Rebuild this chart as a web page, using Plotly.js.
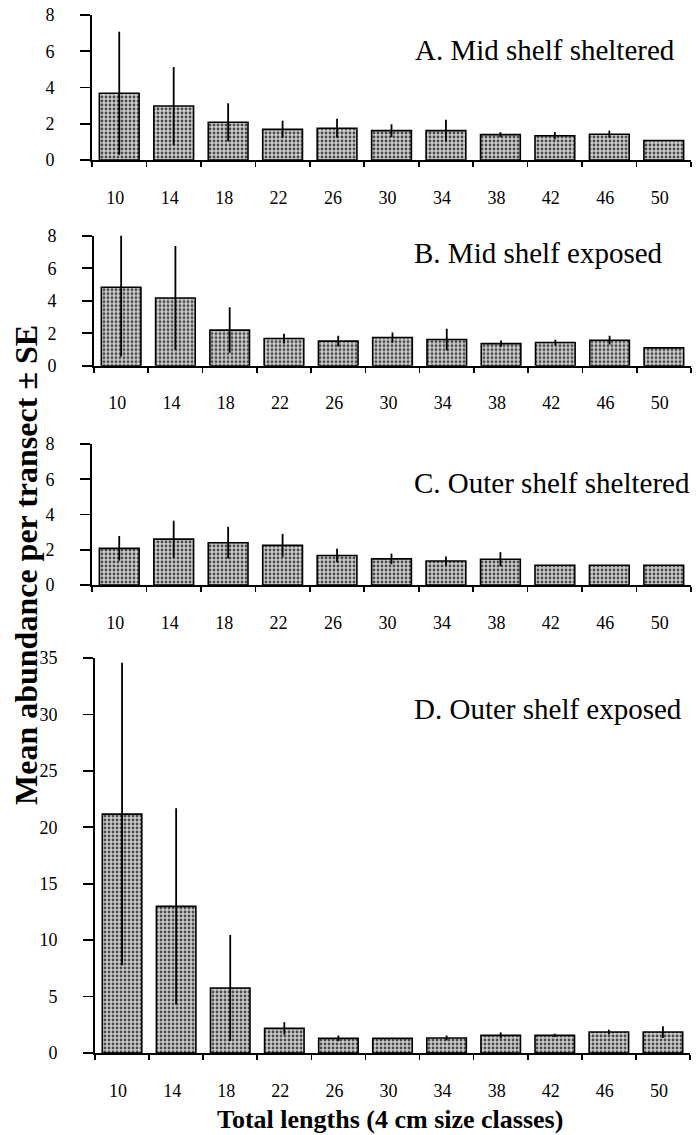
<!DOCTYPE html>
<html>
<head>
<meta charset="utf-8">
<script src="https://cdn.plot.ly/plotly-3.0.1.min.js"></script>
<style>html,body{margin:0;padding:0;background:#fff}#chart{width:697px;height:1135px}</style>
</head>
<body>
<div id="chart"></div>
<script>
// Size classes (total length, cm)
var sizeClasses = ['10','14','18','22','26','30','34','38','42','46','50'];

// A. Mid shelf sheltered
var midShelteredMean = [3.68, 2.98, 2.08, 1.69, 1.75, 1.62, 1.62, 1.40, 1.34, 1.42, 1.08];
var midShelteredSE   = [3.40, 2.15, 1.05, 0.48, 0.52, 0.35, 0.60, 0.14, 0.20, 0.20, 0.00];

// B. Mid shelf exposed
var midExposedMean = [4.83, 4.17, 2.19, 1.67, 1.51, 1.74, 1.61, 1.36, 1.43, 1.57, 1.10];
var midExposedSE   = [4.27, 3.20, 1.40, 0.30, 0.33, 0.31, 0.67, 0.19, 0.17, 0.27, 0.00];

// C. Outer shelf sheltered
var outerShelteredMean = [2.08, 2.60, 2.40, 2.25, 1.67, 1.48, 1.36, 1.46, 1.12, 1.12, 1.12];
var outerShelteredSE   = [0.70, 1.05, 0.90, 0.65, 0.38, 0.30, 0.25, 0.40, 0.00, 0.00, 0.00];

// D. Outer shelf exposed
var outerExposedMean = [21.17, 12.99, 5.76, 2.18, 1.30, 1.30, 1.33, 1.56, 1.56, 1.86, 1.86];
var outerExposedSE   = [13.40, 8.70, 4.70, 0.55, 0.25, 0.05, 0.22, 0.27, 0.15, 0.21, 0.52];

var panelTitles = ['A. Mid shelf sheltered', 'B. Mid shelf exposed', 'C. Outer shelf sheltered', 'D. Outer shelf exposed'];
var yTitle = 'Mean abundance per transect \u00b1 SE';
var xTitle = 'Total lengths (4 cm size classes)';

var W = 697, H = 1135;
var FONT = '"Liberation Serif", "Times New Roman", serif';

function px(x){ return x / W; }
function py(y){ return 1 - y / H; }

var means = [midShelteredMean, midExposedMean, outerShelteredMean, outerExposedMean];
var ses = [midShelteredSE, midExposedSE, outerShelteredSE, outerExposedSE];

// panel geometry in pixels: [xLeft, xRight, yTop, yBottom]
var geom = [
  [92, 691, 15, 160],
  [94, 691, 235.7, 365.7],
  [92, 691, 444, 585],
  [95, 690, 658, 1053]
];
var yRanges = [[0,8],[0,8],[0,8],[0,35]];
var yDtick = [2,2,2,5];
var titlePos = [[677, 50], [665, 253], [692, 483], [684, 709]];

var traces = [];
var layout = {
  width: W, height: H,
  margin: {l:0, r:0, t:0, b:0},
  paper_bgcolor: '#ffffff',
  plot_bgcolor: '#ffffff',
  showlegend: false,
  bargap: 0.27,
  font: {family: FONT, color: '#000', size: 18},
  annotations: []
};

for (var i = 0; i < 4; i++) {
  var xa = 'x' + (i === 0 ? '' : (i + 1));
  var ya = 'y' + (i === 0 ? '' : (i + 1));
  traces.push({
    type: 'bar',
    x: sizeClasses,
    y: means[i],
    xaxis: xa, yaxis: ya,
    marker: {
      color: '#b8b8b8',
      line: {color: '#000', width: 1.6},
      pattern: {shape: '.', size: 4, solidity: 0.4, fgcolor: '#4a4a4a', bgcolor: '#cdcdcd'}
    },
    error_y: {type: 'data', array: ses[i], visible: true, color: '#000', thickness: 1.8, width: 0},
    hoverinfo: 'none'
  });
  var g = geom[i];
  var xk = 'xaxis' + (i === 0 ? '' : (i + 1));
  var yk = 'yaxis' + (i === 0 ? '' : (i + 1));
  layout[xk] = {
    domain: [px(g[0]), px(g[1])],
    anchor: (i === 0 ? 'y' : 'y' + (i + 1)),
    type: 'category',
    range: [-0.5, 10.5],
    tickson: 'boundaries',
    ticks: 'outside', ticklen: 5, tickwidth: 1.6, tickcolor: '#000',
    showline: true, linecolor: '#000', linewidth: 2,
    showgrid: false, zeroline: false,
    tickfont: {family: FONT, size: 18, color: '#000'},
    ticklabelstandoff: 20,
    ticklabelshift: -4,
    fixedrange: true
  };
  layout[yk] = {
    domain: [py(g[3]), py(g[2])],
    anchor: (i === 0 ? 'x' : 'x' + (i + 1)),
    range: yRanges[i],
    dtick: yDtick[i], tick0: 0,
    ticks: 'outside', ticklen: 10, tickwidth: 1.6, tickcolor: '#000',
    showline: true, linecolor: '#000', linewidth: 2,
    showgrid: false, zeroline: false,
    tickfont: {family: FONT, size: 18, color: '#000'},
    ticklabelstandoff: 22,
    fixedrange: true
  };
  layout.annotations.push({
    text: panelTitles[i], xref: 'paper', yref: 'paper',
    x: px(titlePos[i][0]), y: py(titlePos[i][1]),
    xanchor: 'right', yanchor: 'middle', showarrow: false,
    font: {family: FONT, size: 29, color: '#000'}
  });
}

layout.annotations.push({
  text: '<b>' + yTitle + '</b>', xref: 'paper', yref: 'paper',
  x: px(26), y: py(565), xanchor: 'center', yanchor: 'middle',
  textangle: -90, showarrow: false,
  font: {family: FONT, size: 32, color: '#000'}
});
layout.annotations.push({
  text: '<b>' + xTitle + '</b>', xref: 'paper', yref: 'paper',
  x: px(390), y: py(1119), xanchor: 'center', yanchor: 'middle',
  showarrow: false,
  font: {family: FONT, size: 26, color: '#000'}
});

Plotly.newPlot('chart', traces, layout, {staticPlot: true, displayModeBar: false});
</script>
</body>
</html>
